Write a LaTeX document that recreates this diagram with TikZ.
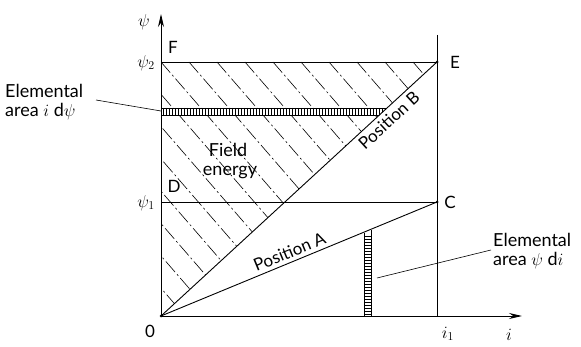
\documentclass[tikz,border=0pt]{standalone}
\usepackage{fontspec}
\setmainfont{Lato}
\usetikzlibrary{arrows.meta}
\begin{document}
\begin{tikzpicture}[x=1pt,y=-1pt,
  ln/.style={line width=0.9pt},
  thin ln/.style={line width=0.6pt},
  hatch/.style={line width=0.6pt, dash pattern=on 14pt off 3pt on 2pt off 3pt},
  lbl/.style={font=\fontsize{17}{18}\selectfont, inner sep=0pt},
  txt/.style={font=\fontsize{18}{19}\selectfont, inner sep=0pt, align=left},
  dot/.style={circle, fill, inner sep=0pt, minimum size=3pt}]
\useasboundingbox (0,0) rectangle (581,347);
% key points
\coordinate (O) at (161,316);
\coordinate (Ytip) at (161,14);
\coordinate (Xtip) at (522,316);
\coordinate (F) at (161,62);
\coordinate (E) at (437,62);
\coordinate (D) at (161,202);
\coordinate (C) at (437,202);
\coordinate (Vtop) at (437,35);
\coordinate (Vbot) at (437,316);
% hatching
\begin{scope}
  \clip (F) -- (E) -- (O) -- cycle;
  \foreach \k in {-12,...,14} {
    \draw[hatch] ({161+28*\k},62) -- ++(260,300);
  }
\end{scope}
% horizontal elemental strip
\begin{scope}
  \clip (F) -- (E) -- (O) -- cycle;
  \fill[white] (161,108) rectangle (437,115);
  \draw[thin ln] (161,108) -- (437,108);
  \draw[thin ln] (161,115) -- (437,115);
  \foreach \x in {163,166,...,436} {
    \draw[line width=0.5pt] (\x,108) -- (\x,115);
  }
\end{scope}
% vertical elemental strip
\draw[thin ln] (364,233) -- (364,316);
\draw[thin ln] (371,230) -- (371,316);
\foreach \y in {236,239,...,314} {
  \draw[line width=0.5pt] (364,\y) -- (371,\y);
}
% axes
\draw[ln, -{Stealth[length=13pt,width=6pt]}] (O) -- (Ytip);
\draw[ln, -{Stealth[length=13pt,width=6pt]}] (O) -- (Xtip);
% lines
\draw[ln] (Vtop) -- (Vbot);
\draw[ln] (F) -- (E);
\draw[ln] (D) -- (C);
\draw[ln] (O) -- (E);
\draw[ln] (O) -- (C);
\node[dot] at (E) {};
\node[dot] at (C) {};
\node[dot] at (O) {};
% labels
\node[lbl] (psi) at (144,22) {$\psi$};
\node[lbl, anchor=east] (psi2) at (155,63) {$\psi_2$};
\node[lbl, anchor=east] (psi1) at (155,203) {$\psi_1$};
\node[lbl] (lF) at (173,47) {F};
\node[lbl] (lE) at (455,62) {E};
\node[lbl] (lD) at (174,186) {D};
\node[lbl] (lC) at (450,202) {C};
\node[lbl] (l0) at (150,331) {0};
\node[lbl] (li) at (509,335) {$i$};
\node[lbl] (li1) at (448,334) {$i_1$};
\node[txt] (fe) at (230,161) {\hspace*{6pt}Field\\energy};
\path (O) -- (E) node[pos=0.80, sloped, below=4pt, font=\fontsize{17}{18}\selectfont, inner sep=0pt] (pB) {Position B};
\path (O) -- (C) node[pos=0.48, sloped, above=4pt, font=\fontsize{17}{18}\selectfont, inner sep=0pt] (pA) {Position A};
\node[txt, anchor=north west] (ea1) at (5,84) {Elemental\\area $i$ d$\psi$};
\node[txt, anchor=north west] (ea2) at (493,233) {Elemental\\area $\psi$ d$i$};
\coordinate (L1a) at (96,100);
\coordinate (L1b) at (161,111);
\coordinate (L2a) at (377,278);
\coordinate (L2b) at (491,250);
\draw[thin ln] (L1a) -- (L1b);
\draw[thin ln] (L2a) -- (L2b);
\end{tikzpicture}
\end{document}
